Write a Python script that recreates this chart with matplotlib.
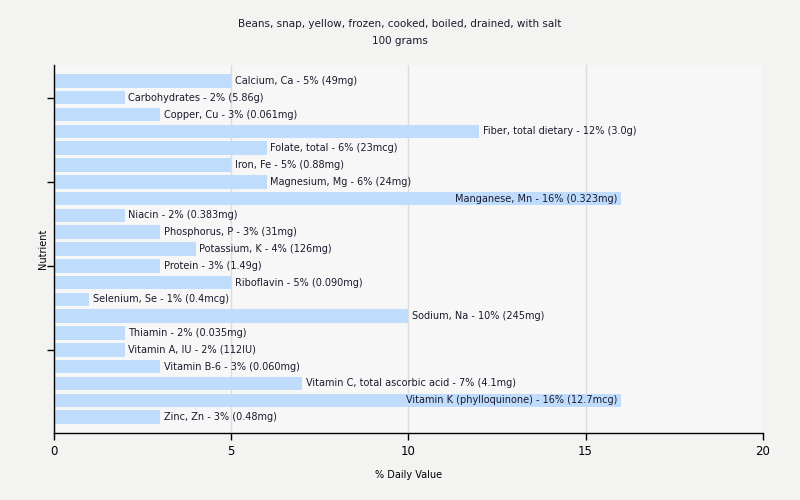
import matplotlib
matplotlib.use('Agg')
import matplotlib.pyplot as plt

nutrients = ['Calcium, Ca', 'Carbohydrates', 'Copper, Cu', 'Fiber, total dietary', 'Folate, total',
             'Iron, Fe', 'Magnesium, Mg', 'Manganese, Mn', 'Niacin', 'Phosphorus, P', 'Potassium, K',
             'Protein', 'Riboflavin', 'Selenium, Se', 'Sodium, Na', 'Thiamin', 'Vitamin A, IU',
             'Vitamin B-6', 'Vitamin C, total ascorbic acid', 'Vitamin K (phylloquinone)', 'Zinc, Zn']
percents = [5, 2, 3, 12, 6, 5, 6, 16, 2, 3, 4, 3, 5, 1, 10, 2, 2, 3, 7, 16, 3]
amounts = ['49mg', '5.86g', '0.061mg', '3.0g', '23mcg', '0.88mg', '24mg', '0.323mg', '0.383mg',
           '31mg', '126mg', '1.49g', '0.090mg', '0.4mcg', '245mg', '0.035mg', '112IU', '0.060mg',
           '4.1mg', '12.7mcg', '0.48mg']

plt.rcParams['font.family'] = ['DejaVu Sans']
fig = plt.figure(figsize=(8, 5), dpi=100, facecolor='#f3f3f2')
ax = fig.add_axes([0.0675, 0.134, 0.886, 0.736])
ax.set_facecolor('#f7f7f7')

pos = list(range(len(nutrients)))
ax.barh(pos, percents, height=0.8, color='#c0dcfc', zorder=2)

for i, (n, p, a) in enumerate(zip(nutrients, percents, amounts)):
    label = f'{n} - {p}% ({a})'
    if p >= 15:
        ax.text(p - 0.1, i, label, ha='right', va='center', fontsize=7, color='#1a1a2e', zorder=3)
    else:
        ax.text(p + 0.1, i, label, ha='left', va='center', fontsize=7, color='#1a1a2e', zorder=3)

ax.set_xlim(0, 20)
ax.set_ylim(len(nutrients) - 0.05, -0.95)
ax.set_xticks([0, 5, 10, 15, 20])
ax.set_yticks([1, 6, 11, 16])
ax.set_yticklabels([])
ax.tick_params(axis='both', length=5, width=1, color='black', labelsize=8.5)
ax.grid(axis='x', color='#dcdcdc', linewidth=1, zorder=0)
for s in ['top', 'right']:
    ax.spines[s].set_visible(False)
for s in ['left', 'bottom']:
    ax.spines[s].set_linewidth(1)

ax.set_xlabel('% Daily Value', fontsize=7, labelpad=9)
ax.set_ylabel('Nutrient', fontsize=7, labelpad=-4)
fig.suptitle('Beans, snap, yellow, frozen, cooked, boiled, drained, with salt\n100 grams',
             fontsize=7.5, y=0.962, linespacing=1.9, color='#1a1a2e')

fig.savefig('out.png', dpi=100, facecolor=fig.get_facecolor())
